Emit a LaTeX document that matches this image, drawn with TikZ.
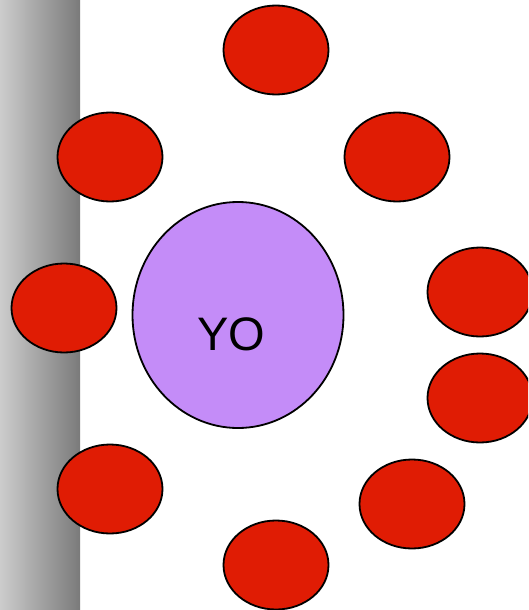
\documentclass[tikz,border=0pt]{standalone}
\usepackage{fontspec}
\setsansfont{Liberation Sans}
\usetikzlibrary{shapes.geometric}

\definecolor{ballred}{RGB}{224,28,4}
\definecolor{mepurple}{RGB}{196,140,248}

\begin{document}
\begin{tikzpicture}[x=1pt, y=-1pt,
  ball/.style={draw, ellipse, line width=1.8pt, fill=ballred,
               minimum width=105pt, minimum height=89pt, inner sep=0pt},
  me/.style={draw, ellipse, line width=1.8pt, fill=mepurple,
             minimum width=211pt, minimum height=226pt, inner sep=0pt}]

  \useasboundingbox (0,0) rectangle (528,610);
  \clip (0,0) rectangle (528,610);

  % wall on the left
  \shade[left color=black!20, right color=black!52] (0,0) rectangle (80,610);

  % the one in the middle
  \node[me] (yo) at (238,315) {};
  \node[font=\sffamily\fontsize{47}{47}\selectfont] (yolabel) at (231,334) {YO};

  % the ring of red ones
  \node[ball] (top)    at (276,50)  {};
  \node[ball] (upleft) at (110,157) {};
  \node[ball] (upright) at (397,157) {};
  \node[ball] (left)   at (64,308)  {};
  \node[ball] (rightA) at (480,292) {};
  \node[ball] (rightB) at (480,398) {};
  \node[ball] (lowright) at (412,504) {};
  \node[ball] (lowleft) at (110,489) {};
  \node[ball] (bottom) at (276,565) {};

\end{tikzpicture}
\end{document}
